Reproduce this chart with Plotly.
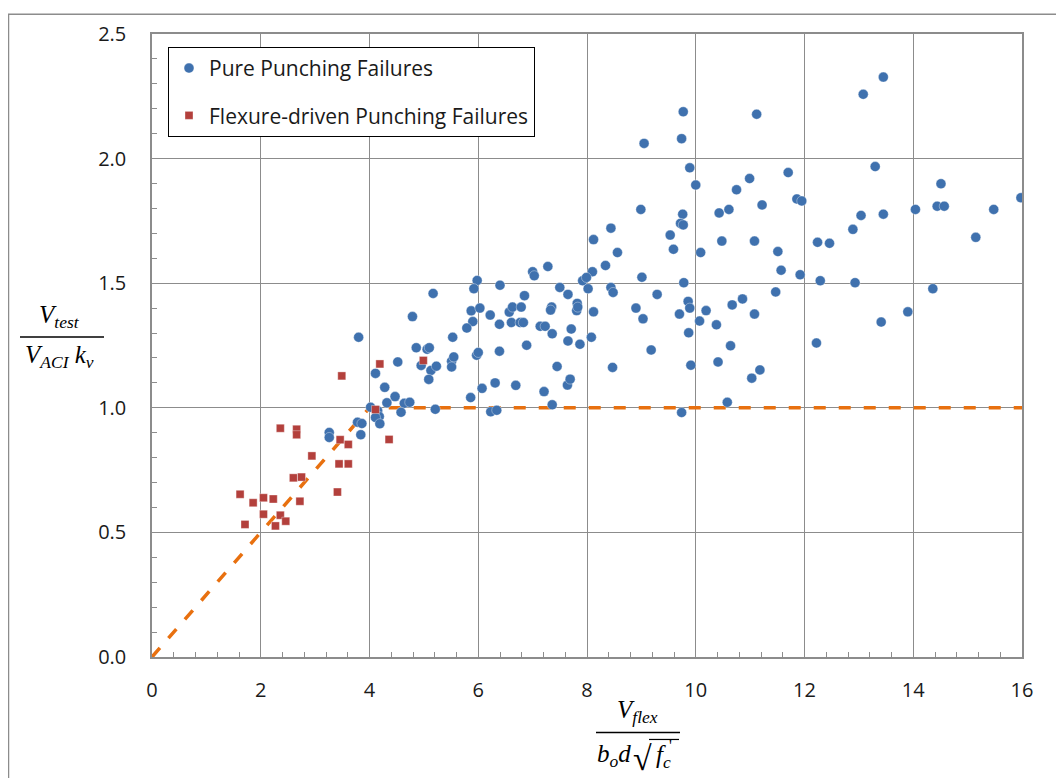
import plotly.graph_objects as go

# ---------------- data ----------------
pure_x = [9.77, 11.12, 13.08, 13.45, 9.05, 9.74, 9.89, 11.70, 13.30, 10.00,
          10.99, 10.75, 14.51, 11.86, 11.95, 15.98, 11.22, 8.99, 10.43, 10.61,
          14.04, 14.44, 14.57, 15.48, 13.45, 13.04, 9.76, 9.72, 9.77, 12.89,
          8.44, 9.53, 8.12, 15.15, 10.48, 11.08, 12.24, 12.46, 9.59, 8.56,
          10.09, 11.51, 8.34, 8.10, 7.92, 7.99, 9.01, 11.57, 11.92, 12.29,
          9.78, 12.93, 7.50, 8.02, 8.44, 8.48, 7.65, 9.29, 11.47, 14.36,
          7.82, 7.81, 7.83, 8.12, 8.90, 9.03, 9.86, 9.89, 9.70, 10.19,
          10.07, 10.67, 10.86, 11.08, 10.38, 13.41, 13.90, 7.71, 7.65, 7.87,
          8.08, 9.18, 9.87, 10.64, 12.22, 8.47, 9.91, 10.41, 11.03, 11.18,
          7.64, 7.69, 7.45, 10.58, 9.74,
          3.80, 4.79, 5.17, 5.98, 5.92, 6.40, 7.00, 7.03, 7.28, 5.87,
          6.03, 5.90, 6.22, 5.79, 6.39, 6.57, 6.63, 6.79, 6.85, 6.61,
          6.77, 6.83, 7.14, 7.23, 7.36, 5.53, 4.86, 5.06, 5.10, 4.52,
          4.95, 4.11, 5.13, 5.23, 5.09, 5.51, 5.55, 5.51, 5.97, 6.00,
          6.39, 6.89, 6.31, 6.07, 6.69, 4.28, 4.47, 4.32, 4.64, 4.74,
          4.58, 5.21, 5.86, 6.23, 6.34, 7.21, 7.36, 4.02, 7.35, 7.33,
          4.15, 4.18, 4.11, 4.19, 3.78, 3.86, 3.84, 3.26, 3.26]
pure_y = [2.188, 2.178, 2.258, 2.327, 2.061, 2.080, 1.963, 1.944, 1.968, 1.894,
          1.920, 1.875, 1.899, 1.838, 1.830, 1.843, 1.814, 1.796, 1.782, 1.796,
          1.796, 1.809, 1.809, 1.796, 1.777, 1.772, 1.777, 1.740, 1.734, 1.716,
          1.721, 1.693, 1.675, 1.684, 1.669, 1.669, 1.664, 1.660, 1.636, 1.623,
          1.623, 1.627, 1.571, 1.546, 1.510, 1.523, 1.524, 1.552, 1.534, 1.510,
          1.502, 1.502, 1.483, 1.478, 1.483, 1.463, 1.455, 1.455, 1.465, 1.478,
          1.419, 1.390, 1.404, 1.385, 1.400, 1.357, 1.427, 1.400, 1.376, 1.390,
          1.348, 1.413, 1.437, 1.376, 1.333, 1.344, 1.385, 1.316, 1.268, 1.255,
          1.283, 1.232, 1.301, 1.249, 1.260, 1.162, 1.171, 1.184, 1.119, 1.152,
          1.091, 1.115, 1.166, 1.022, 0.981,
          1.283, 1.366, 1.459, 1.511, 1.478, 1.492, 1.546, 1.530, 1.567, 1.389,
          1.400, 1.346, 1.372, 1.320, 1.335, 1.384, 1.404, 1.404, 1.450, 1.342,
          1.342, 1.342, 1.327, 1.327, 1.297, 1.283, 1.241, 1.235, 1.241, 1.184,
          1.170, 1.138, 1.150, 1.167, 1.114, 1.187, 1.204, 1.164, 1.211, 1.222,
          1.227, 1.251, 1.100, 1.078, 1.090, 1.082, 1.045, 1.020, 1.018, 1.022,
          0.982, 0.994, 1.041, 0.984, 0.990, 1.065, 1.012, 1.002, 1.404, 1.392,
          0.988, 0.965, 0.961, 0.936, 0.942, 0.937, 0.892, 0.901, 0.881]

flex_x = [4.11, 4.36, 3.46, 3.61, 3.44, 3.61, 3.41, 2.94, 2.36, 2.66,
          2.66, 2.60, 2.75, 2.72, 1.62, 1.86, 2.05, 2.23, 1.71, 2.05,
          2.36, 2.27, 2.46, 4.19, 4.99, 3.49]
flex_y = [0.993, 0.873, 0.872, 0.853, 0.775, 0.775, 0.662, 0.807, 0.918, 0.914,
          0.892, 0.719, 0.722, 0.625, 0.653, 0.619, 0.639, 0.634, 0.532, 0.573,
          0.569, 0.526, 0.545, 1.176, 1.190, 1.128]

limit_x = [0, 4, 16]
limit_y = [0, 1, 1]

x_ticks = [0, 2, 4, 6, 8, 10, 12, 14, 16]
y_ticks = [0.0, 0.5, 1.0, 1.5, 2.0, 2.5]

# ---------------- styling ----------------
BLUE = '#3F71AE'
RED = '#B3403C'
ORANGE = '#E8700F'
GRID = '#8C8C8C'
OFF = 8                      # page body margin of the browser
W, H = 1064 - OFF, 778 - OFF
L, R, T, B = 152 - OFF, 42, 30 - OFF, 121
PW, PH = W - L - R, H - T - B


def px(p):                    # reference-picture x pixel -> paper
    return (p - OFF - L) / PW


def py(p):                    # reference-picture y pixel -> paper
    return (H - B - (p - OFF)) / PH


fig = go.Figure()
fig.add_trace(go.Scatter(x=limit_x, y=limit_y, mode='lines', showlegend=False,
                         line=dict(color=ORANGE, width=3.5, dash='12px,13px'),
                         hoverinfo='skip'))
fig.add_trace(go.Scatter(x=pure_x, y=pure_y, mode='markers', name='Pure Punching Failures',
                         legendgroup='a',
                         marker=dict(symbol='circle', size=10, color=BLUE,
                                     line=dict(width=0.6, color='rgba(255,255,255,0.6)'))))
fig.add_trace(go.Scatter(x=flex_x, y=flex_y, mode='markers',
                         name='Flexure-driven Punching Failures', legendgroup='b',
                         marker=dict(symbol='square', size=8, color=RED,
                                     line=dict(width=0.6, color='rgba(255,255,255,0.6)'))))

axis_common = dict(showgrid=True, gridcolor=GRID, gridwidth=1, showline=True,
                   linecolor=GRID, linewidth=1.5, mirror=True, zeroline=False,
                   ticks='inside', ticklen=5, tickcolor=GRID,
                   tickfont=dict(family='Open Sans, Lato, Liberation Sans', size=20,
                                 color='#1a1a1a'))

fig.update_xaxes(range=[0, 16], tickvals=x_ticks, ticklabelstandoff=14,
                 minor=dict(dtick=0.4, tick0=0, ticks='inside', ticklen=5,
                            tickcolor=GRID, showgrid=False),
                 **axis_common)
fig.update_yaxes(range=[0, 2.5], tickvals=y_ticks, tickformat='.1f', ticklabelstandoff=20,
                 minor=dict(dtick=0.1, tick0=0, ticks='inside', ticklen=5,
                            tickcolor=GRID, showgrid=False),
                 **axis_common)

serif = dict(family='Liberation Serif, Times New Roman, serif', size=25, color='black')
ann = []


def add_text(text, x, y, size=25, xanchor='center'):
    f = dict(serif)
    f['size'] = size
    ann.append(dict(text=text, x=px(x), y=py(y), xref='paper', yref='paper',
                    showarrow=False, xanchor=xanchor, yanchor='middle', font=f))


# y-axis title (fraction)
add_text('<i>V<sub>test</sub></i>', 59, 314)
add_text('<i>V<sub>ACI</sub> k<sub>v</sub></i>', 59, 355)
# x-axis title (fraction)
add_text('<i>V<sub>flex</sub></i>', 637, 712)
add_text('<i>b<sub>o</sub>d</i>', 614, 756)
add_text('\u221a', 642, 759, size=34)
add_text('<i>f<sub>c</sub></i>', 663, 757)
add_text("'", 670, 746, size=16)

shapes = [
    dict(type='line', xref='paper', yref='paper', x0=px(20), x1=px(104), y0=py(335), y1=py(335),
         line=dict(color='black', width=1.5)),
    dict(type='line', xref='paper', yref='paper', x0=px(596), x1=px(680), y0=py(733), y1=py(733),
         line=dict(color='black', width=1.5)),
    dict(type='line', xref='paper', yref='paper', x0=px(649), x1=px(679), y0=py(740), y1=py(740),
         line=dict(color='black', width=1.2)),
    # outer chart frame
    dict(type='line', xref='paper', yref='paper', x0=px(8), x1=px(1070), y0=py(10), y1=py(10),
         line=dict(color='#8C8C8C', width=1.5)),
    dict(type='line', xref='paper', yref='paper', x0=px(8.5), x1=px(8.5), y0=py(10), y1=py(790),
         line=dict(color='#8C8C8C', width=1.5)),
]

fig.update_layout(
    width=W, height=H,
    margin=dict(l=L, r=R, t=T, b=B, pad=0),
    plot_bgcolor='white', paper_bgcolor='white',
    annotations=ann, shapes=shapes,
    legend=dict(x=px(168), y=py(43), xanchor='left', yanchor='top',
                bgcolor='white', bordercolor='black', borderwidth=1,
                font=dict(family='Open Sans, Lato, Liberation Sans', size=21, color='#1a1a1a'),
                tracegroupgap=17, itemwidth=30),
)

fig.write_html('out.html')
